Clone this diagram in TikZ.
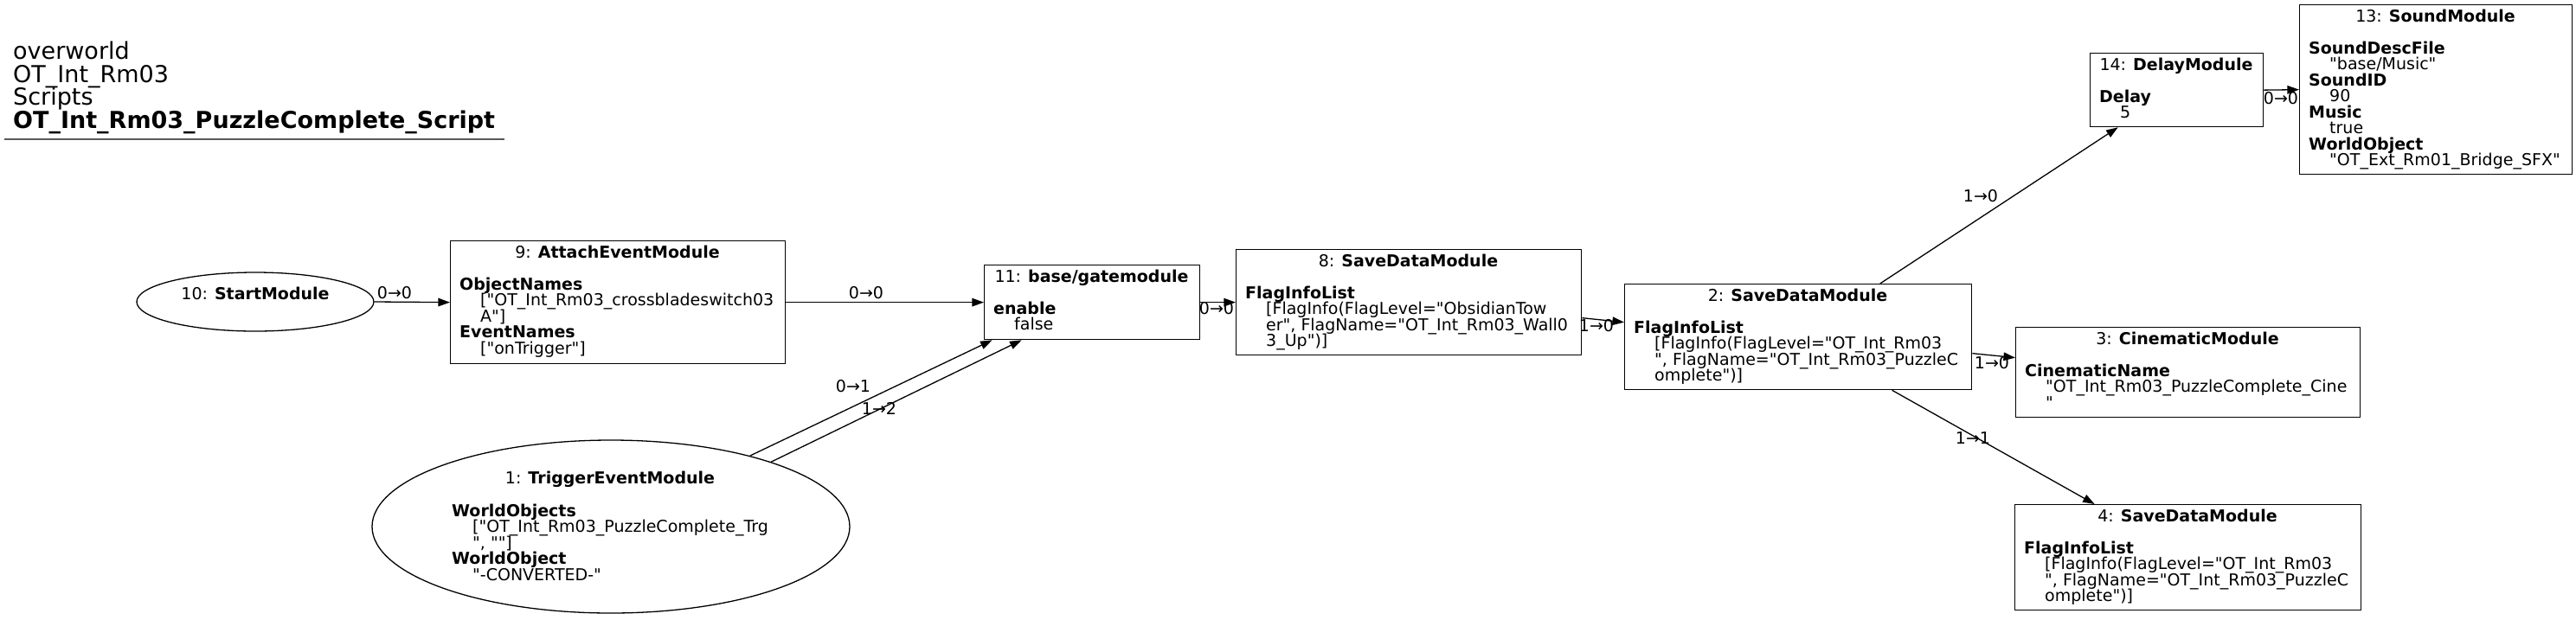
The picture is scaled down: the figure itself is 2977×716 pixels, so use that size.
\documentclass[tikz,border=0pt]{standalone}
\usepackage{fontspec}
\setmainfont{DejaVu Sans}[Ligatures=TeXOff]
\usetikzlibrary{shapes.geometric,arrows.meta,calc}
\newcommand\ndfont{\fontsize{19}{18.5}\selectfont}
\newcommand\ttlfont{\fontsize{27}{26.7}\selectfont}
\newcommand\bodylines[1]{\vtop{\baselineskip=18.5pt\lineskiplimit=-100pt\lineskip=0pt\relax #1}}
\newcommand\kv[1]{\hbox{\textbf{#1}}}
\newcommand\vl[1]{\hbox{\kern24pt #1}}
\tikzset{
  box/.style={draw, line width=1.3pt, rectangle, inner sep=0pt, anchor=north west},
  oval/.style={draw, line width=1.3pt, ellipse, inner sep=0pt},
  ttl/.style={inner sep=0pt, anchor=base, font=\ndfont},
  body/.style={inner sep=0pt, anchor=base west, font=\ndfont},
  conn/.style={line width=1.3pt, -{Triangle[length=13.6pt,width=9.5pt]}},
  elabel/.style={inner sep=0pt, anchor=base, font=\ndfont},
  head/.style={inner sep=0pt, anchor=base west, font=\ttlfont},
}
\begin{document}
\begin{tikzpicture}[x=1pt,y=-1pt]
\useasboundingbox (0,0) rectangle (2977,716);
% header
\node[head] (h1) at (15,68) {overworld};
\node[head] (h2) at (15,95) {OT\_Int\_Rm03};
\node[head] (h3) at (15,121) {Scripts};
\node[head] (h4) at (15,148) {\textbf{OT\_Int\_Rm03\_PuzzleComplete\_Script}};
\draw[line width=2pt, black!65] (5,161) -- (583,161);

% 10 StartModule
\node[oval, minimum width=274pt, minimum height=68pt] (n10) at (295,349) {};
\node[ttl] (n10t) at (295,346) {10: \textbf{StartModule}};

% 9 AttachEventModule
\node[box, minimum width=387pt, minimum height=142pt] (n9) at (520,278) {};
\node[ttl] (n9t) at (713.5,298) {9: \textbf{AttachEventModule}};
\node[body] (n9b) at (531,335) {\bodylines{\kv{ObjectNames}\vl{["OT\_Int\_Rm03\_crossbladeswitch03}\vl{A"]}\kv{EventNames}\vl{["onTrigger"]}}};

% 11 gatemodule
\node[box, minimum width=249pt, minimum height=86pt] (n11) at (1137,306) {};
\node[ttl] (n11t) at (1261.5,326) {11: \textbf{base/gatemodule}};
\node[body] (n11b) at (1148,363) {\bodylines{\kv{enable}\vl{false}}};

% 8 SaveDataModule
\node[box, minimum width=399pt, minimum height=122pt] (n8) at (1428,288) {};
\node[ttl] (n8t) at (1627.5,308) {8: \textbf{SaveDataModule}};
\node[body] (n8b) at (1439,345) {\bodylines{\kv{FlagInfoList}\vl{[FlagInfo(FlagLevel="ObsidianTow}\vl{er", FlagName="OT\_Int\_Rm03\_Wall0}\vl{3\_Up")]}}};

% 2 SaveDataModule
\node[box, minimum width=401pt, minimum height=122pt] (n2) at (1877,328) {};
\node[ttl] (n2t) at (2077.5,348) {2: \textbf{SaveDataModule}};
\node[body] (n2b) at (1888,385) {\bodylines{\kv{FlagInfoList}\vl{[FlagInfo(FlagLevel="OT\_Int\_Rm03}\vl{", FlagName="OT\_Int\_Rm03\_PuzzleC}\vl{omplete")]}}};

% 14 DelayModule
\node[box, minimum width=200pt, minimum height=85pt] (n14) at (2415,61) {};
\node[ttl] (n14t) at (2515,81) {14: \textbf{DelayModule}};
\node[body] (n14b) at (2426,118) {\bodylines{\kv{Delay}\vl{5}}};

% 13 SoundModule
\node[box, minimum width=315pt, minimum height=196pt] (n13) at (2657,5) {};
\node[ttl] (n13t) at (2814.5,25) {13: \textbf{SoundModule}};
\node[body] (n13b) at (2668,62) {\bodylines{\kv{SoundDescFile}\vl{"base/Music"}\kv{SoundID}\vl{90}\kv{Music}\vl{true}\kv{WorldObject}\vl{"OT\_Ext\_Rm01\_Bridge\_SFX"}}};

% 3 CinematicModule
\node[box, minimum width=398pt, minimum height=104pt] (n3) at (2329,378) {};
\node[ttl] (n3t) at (2528,398) {3: \textbf{CinematicModule}};
\node[body] (n3b) at (2340,435) {\bodylines{\kv{CinematicName}\vl{"OT\_Int\_Rm03\_PuzzleComplete\_Cine}\vl{"}}};

% 4 SaveDataModule
\node[box, minimum width=400pt, minimum height=122pt] (n4) at (2328,583) {};
\node[ttl] (n4t) at (2528,603) {4: \textbf{SaveDataModule}};
\node[body] (n4b) at (2339,640) {\bodylines{\kv{FlagInfoList}\vl{[FlagInfo(FlagLevel="OT\_Int\_Rm03}\vl{", FlagName="OT\_Int\_Rm03\_PuzzleC}\vl{omplete")]}}};

% 1 TriggerEventModule
\node[oval, minimum width=552pt, minimum height=200pt] (n1) at (706,609) {};
\node[ttl] (n1t) at (705,559) {1: \textbf{TriggerEventModule}};
\node[body] (n1b) at (522,597) {\bodylines{\kv{WorldObjects}\vl{["OT\_Int\_Rm03\_PuzzleComplete\_Trg}\vl{", ""]}\kv{WorldObject}\vl{"-CONVERTED-"}}};

% connectors
\draw[conn] (n10.east) -- (n9.west);
\node[elabel] (l1) at (456,345) {0→0};
\draw[conn] (n9.east) -- (n11.west);
\node[elabel] (l2) at (1001,345) {0→0};
\draw[conn] (n11.east) -- (n8.west);
\node[elabel] (l3) at (1406,363) {0→0};
\draw[conn] ($(n8.east)+(0,18)$) -- ($(n2.west)+(0,-17)$);
\node[elabel] (l4) at (1845,383) {1→0};
\draw[conn] ($(n2.north)+(94.5,0)$) -- ($(n14.south)+(-68,0)$);
\node[elabel] (l5) at (2289,233) {1→0};
\draw[conn] (n14.east) -- (n13.west);
\node[elabel] (l6) at (2636,120) {0→0};
\draw[conn] ($(n2.east)+(0,19)$) -- ($(n3.west)+(0,-17)$);
\node[elabel] (l7) at (2302,426) {1→0};
\draw[conn] ($(n2.south)+(108.5,0)$) -- ($(n4.north)+(-108,0)$);
\node[elabel] (l8) at (2280,513) {1→1};
\draw[conn] (n1.27.3) -- ($(n11.south)+(-115.5,0)$);
\node[elabel] (l9) at (986,453) {0→1};
\draw[conn] (n1.22.1) -- ($(n11.south)+(-81.5,0)$);
\node[elabel] (l10) at (1016,479) {1→2};
\end{tikzpicture}
\end{document}
